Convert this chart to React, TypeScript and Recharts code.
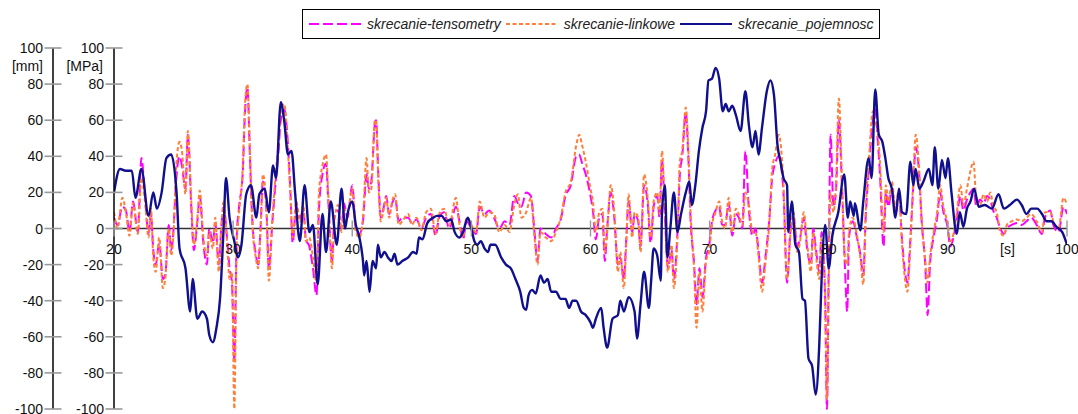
import React from "react"
import { LineChart, Line, XAxis, YAxis, ReferenceLine } from "recharts"

// czas [s] - wspolny dla tensometrow i linkowych
const czas = [
  20, 20.3, 20.7, 21, 21.3, 21.6, 22, 22.3, 22.6, 22.9,
  23.1, 23.3, 23.5, 23.8, 24.1, 24.3, 24.6, 24.8, 25, 25.2,
  25.5, 25.7, 26, 26.2, 26.5, 26.7, 27, 27.2, 27.5, 27.8,
  28, 28.3, 28.5, 28.8, 29, 29.2, 29.5, 29.7, 29.9, 30.1,
  30.3, 30.5, 30.8, 31, 31.2, 31.4, 31.6, 31.9, 32.1, 32.3,
  32.5, 32.8, 33, 33.3, 33.6, 33.8, 34, 34.3, 34.5, 34.8,
  35, 35.3, 35.6, 35.9, 36.1, 36.4, 36.7, 37, 37.2, 37.5,
  37.8, 38, 38.3, 38.5, 38.8, 39.1, 39.3, 39.6, 40, 40.3,
  40.6, 40.9, 41.2, 41.4, 41.6, 41.9, 42, 42.2, 42.4, 42.65,
  42.85, 43.1, 43.35, 43.6, 43.9, 44.2, 44.7, 45, 45.4, 45.8,
  46.2, 46.6, 47, 47.3, 47.7, 48.15, 48.7, 49, 49.3, 49.6,
  50, 50.4, 50.7, 51.1, 51.5, 51.9, 52.35, 52.8, 53.2, 53.6,
  53.9, 54.2, 54.6, 55, 55.3, 55.55, 55.8, 56.25, 56.7, 57.1,
  57.5, 57.9, 58.35, 58.8, 59.05, 59.3, 59.6, 60, 60.2, 60.45,
  60.7, 61, 61.2, 61.4, 61.7, 62, 62.3, 62.5, 62.8, 63,
  63.2, 63.5, 63.7, 64, 64.2, 64.5, 64.8, 65.05, 65.3, 65.6,
  65.8, 66, 66.25, 66.5, 66.8, 67, 67.3, 67.5, 67.7, 68,
  68.2, 68.4, 68.7, 68.9, 69.15, 69.4, 69.7, 69.95, 70.2, 70.5,
  70.8, 71.05, 71.3, 71.6, 71.9, 72.2, 72.45, 72.75, 73, 73.3,
  73.6, 73.85, 74.1, 74.4, 74.7, 75, 75.25, 75.5, 75.8, 76.2,
  76.5, 76.8, 77.05, 77.35, 77.6, 77.9, 78.2, 78.5, 78.7, 78.9,
  79.2, 79.4, 79.7, 79.85, 80, 80.15, 80.4, 80.6, 80.85, 81.1,
  81.35, 81.55, 81.7, 82, 82.4, 82.65, 82.9, 83.1, 83.4, 83.7,
  83.9, 84.1, 84.3, 84.6, 84.8, 85, 85.3, 85.6, 85.9, 86.15,
  86.4, 86.6, 86.85, 87.1, 87.3, 87.55, 87.8, 88.1, 88.3, 88.5,
  88.8, 89.1, 89.35, 89.6, 90, 90.2, 90.5, 90.75, 91.05, 91.3,
  91.6, 91.9, 92.15, 92.4, 92.7, 93, 93.3, 93.55, 93.8, 94.1,
  94.4, 94.7, 94.95, 95.35, 95.8, 96.2, 96.6, 97, 97.45, 97.9,
  98.15, 98.6, 98.85, 99.3, 99.7, 100,
]

const tensometry = [
  6, 2, 12, 10, -2, 15, -2, 39, 18, -3,
  8, -12, -20, -8, -28, -26, 2, -12, 0, 25,
  40, 35, 22, 52, 10, -12, 4, 18, -8, -20,
  0, -8, 3, -20, 0, 12, -6, -22, -30, -73,
  -5, 12, 30, 65, 78, 42, 6, -14, -20, 0,
  26, 10, -22, 4, 28, 42, 60, 66, 56, 22,
  -8, 12, 6, 10, -6, -10, -22, -37, 10, 30,
  36, 14, -18, 6, 10, 0, 14, 6, 24, 0,
  -3, 4, 30, 22, 26, 58, 60, 28, 6, 12,
  18, 8, 14, 17, 4, 6, 6, 3, 5, 0,
  6, 8, -4, 6, 9, 0, 12, 4, -6, 4,
  0, -3, 12, 8, 10, 6, 0, 4, 2, 18,
  14, 12, 20, 18, -2, -18, 0, -3, -5, 0,
  5, 18, 24, 40, 41, 36, 30, 18, 10, -6,
  5, 8, -18, 0, 20, 6, -20, -16, -28, -6,
  15, -2, 8, 4, -10, 24, 14, -8, 12, 18,
  6, 38, 6, -22, -12, -28, -2, 30, 40, 64,
  42, 5, -20, -42, -22, -38, -16, -10, 4, 10,
  12, 2, 2, 14, -4, 8, 6, 0, 43, 10,
  -4, 0, -12, -30, -15, 4, 28, 36, 40, 20,
  -30, 0, 6, -10, -5, 6, -12, -20, 0, -10,
  -24, -2, -40, -100, -20, 52, 12, 20, 60, 25,
  -20, -46, -5, 4, -6, -14, -26, 6, 36, 60,
  66, 50, 30, -10, 20, 12, 22, 8, 18, -6,
  -24, -30, -6, 24, 45, 34, 4, -20, -48, -20,
  -5, 6, 20, 10, 0, -10, -4, 6, 18, 10,
  16, 20, 22, 12, 16, 14, 18, 16, 10, 6,
  0, -3, 0, 2, 3, 2, 4, 6, 2, -3,
  6, 10, 2, -2, 12, 8,
]

const linkowe = [
  9, 0, 17, 9, -4, 14, -3, 28, 15, -5,
  11, -16, -24, -5, -33, -28, 0, -15, -2, 32,
  48, 43, 19, 54, 13, -9, 6, 21, -5, -15,
  -2, -11, 6, -24, -2, 15, -9, -28, -24, -100,
  -9, 9, 33, 69, 80, 46, 4, -16, -22, -2,
  30, 9, -29, 6, 32, 46, 65, 69, 54, 19,
  -5, 15, 4, 13, -7, -5, -16, -30, 19, 35,
  41, 17, -22, 4, 13, -2, 11, 8, 22, -2,
  -5, 6, 39, 20, 22, 60, 60, 24, 4, 11,
  17, 6, 15, 19, 2, 4, 8, 2, 6, -1,
  9, 11, -3, 8, 11, 2, 17, 2, -5, 6,
  2, -2, 15, 6, 9, 8, -2, 2, -2, 13,
  19, 6, 9, 17, -5, -20, -2, -5, -7, -2,
  6, 20, 26, 46, 52, 46, 37, 22, 15, -2,
  8, 11, -13, -2, 24, 9, -24, -13, -33, -9,
  19, -5, 9, 6, -13, 30, 17, -5, 15, 20,
  8, 43, 9, -24, -9, -33, -5, 37, 43, 67,
  46, 9, -24, -55, -24, -46, -18, -13, 2, 9,
  15, 4, 0, 17, -2, 11, 8, 2, 20, 13,
  -2, -2, -15, -35, -18, 2, 33, 41, 52, 24,
  -28, -2, 9, -13, -7, 9, -9, -24, -2, -13,
  -28, -5, -37, -95, -28, 20, 9, 24, 72, 28,
  -16, -20, -2, 6, -5, -16, -31, 9, 41, 65,
  59, 54, 37, -2, 24, 15, 26, 11, 22, -9,
  -28, -35, -9, 28, 52, 37, 6, -18, -30, -16,
  -2, 9, 24, 13, 2, -7, -2, 9, 24, 13,
  22, 32, 37, 15, 13, 19, 15, 20, 13, 9,
  -2, -4, 2, 4, 5, 4, 6, 8, 4, -2,
  9, 9, 4, 0, 17, 13,
]

// czas [s] dla czujnika pojemnosciowego
const czasPoj = [
  20, 20.5, 21, 21.5, 21.8, 22.3, 22.9, 23.3, 23.6, 24,
  24.4, 24.8, 25.25, 25.5, 26, 26.4, 26.6, 27, 27.4, 27.8,
  28, 28.3, 28.6, 28.9, 29.2, 29.4, 29.7, 30.1, 30.4, 30.7,
  31.1, 31.5, 31.95, 32.2, 32.65, 33, 33.35, 33.6, 34, 34.3,
  34.6, 34.9, 35.2, 35.6, 36, 36.4, 36.7, 37.1, 37.5, 37.8,
  38.2, 38.7, 39.1, 39.4, 39.6, 40, 40.3, 40.6, 40.9, 41,
  41.2, 41.45, 41.7, 42, 42.15, 42.4, 42.7, 43, 43.3, 43.55,
  43.8, 44.2, 44.7, 45.1, 45.4, 45.6, 45.9, 46.3, 46.8, 47.1,
  47.5, 47.9, 48.3, 48.6, 49, 49.3, 49.7, 50, 50.25, 50.5,
  50.8, 51.1, 51.4, 51.6, 52, 52.5, 52.9, 53.3, 53.7, 54.1,
  54.4, 54.6, 54.8, 55.1, 55.4, 55.8, 56.1, 56.4, 56.7, 57.1,
  57.5, 57.9, 58.2, 58.5, 58.8, 59.2, 59.6, 60, 60.2, 60.45,
  60.9, 61.1, 61.4, 61.85, 62.3, 62.5, 62.8, 63.2, 63.7, 63.9,
  64.2, 64.5, 64.9, 65.1, 65.3, 65.6, 65.9, 66, 66.25, 66.45,
  66.7, 67, 67.3, 67.6, 68, 68.3, 68.5, 68.8, 69.1, 69.4,
  69.7, 69.9, 70.2, 70.5, 70.8, 71.1, 71.35, 71.6, 71.9, 72.2,
  72.6, 73, 73.3, 73.6, 73.85, 74.1, 74.4, 74.8, 75.1, 75.4,
  75.7, 75.95, 76.2, 76.5, 76.6, 76.9, 77.2, 77.5, 77.8, 78,
  78.3, 78.6, 78.9, 79.2, 79.4, 79.7, 80, 80.3, 80.8, 81.3,
  81.6, 81.8, 82.1, 82.2, 82.65, 82.9, 83.35, 83.6, 83.9, 84.2,
  84.5, 84.75, 85, 85.3, 85.6, 85.9, 86.15, 86.5, 86.85, 87.1,
  87.3, 87.6, 87.95, 88.4, 88.7, 88.9, 89.2, 89.5, 89.8, 90,
  90.3, 90.75, 91, 91.3, 91.6, 91.9, 92.2, 92.6, 93.1, 93.7,
  94.25, 94.7, 95.2, 95.8, 96.2, 96.6, 97, 97.5, 97.9, 98.3,
  98.7, 99.1, 99.6, 100,
]

const pojemnosc = [
  20, 33, 32, 32, 17, 33, 7, 20, 11, 20,
  39, 41, 20, -11, -22, -46, -28, -50, -46, -50,
  -59, -63, -55, -39, 0, 28, 6, -7, -16, -9,
  19, 24, 6, 19, 22, 9, 35, 28, 70, 59,
  41, 43, 20, -7, 24, -2, 2, -31, 8, -13,
  15, -9, 22, 0, 8, 15, 2, -5, -18, -26,
  -18, -35, -18, -22, -9, -16, -13, -16, -18, -14,
  -20, -18, -16, -13, -14, -5, -6, 3, 6, 7,
  7, 4, 5, -2, -5, -2, 6, 0, -7, -9,
  -7, -11, -13, -9, -9, -16, -20, -22, -28, -35,
  -44, -45, -37, -34, -36, -26, -30, -28, -35, -35,
  -39, -39, -44, -40, -40, -46, -48, -52, -55, -50,
  -44, -55, -66, -50, -48, -40, -46, -38, -46, -61,
  -42, -24, -44, -28, -11, -15, -29, 9, 24, -16,
  0, 20, -2, 8, 20, 26, 13, 24, 43, 56,
  65, 82, 83, 89, 83, 65, 69, 65, 68, 63,
  54, 76, 57, 45, 54, 41, 56, 76, 82, 74,
  46, 37, 28, 24, -2, 15, -9, -13, -39, -40,
  -72, -76, -92, -65, -28, 2, -22, -4, 9, 30,
  6, 15, 7, 14, -1, 15, 39, 28, 77, 52,
  48, 39, 28, 22, 6, 22, 9, 8, 37, 24,
  33, 22, 26, 33, 24, 45, 22, 38, 28, 39,
  20, -3, 9, 1, 11, 15, 22, 12, 13, 11,
  19, 11, 13, 16, 13, 8, 11, 11, 8, 4,
  4, 1, -2, -9,
]

const yTicks = [-100, -80, -60, -40, -20, 0, 20, 40, 60, 80, 100]
const xTicks = [20, 30, 40, 50, 60, 70, 80, 90, 95, 100]

const W = 1078
const H = 414
const M = { top: 48, right: 11, bottom: 4, left: 0 }
const X_AXIS_H = 1
const ZERO_Y = M.top + (H - M.top - M.bottom - X_AXIS_H) / 2
const TICK_GAP = 10 // odstep tekstu od osi
const FONT = "'Liberation Sans', Arial, sans-serif"

const seria = (t: number[], v: number[]) => t.map((x, i) => ({ t: x, v: v[i] }))

// x = linia osi - TICK_GAP, kreska przecina os (+-8 px)
const YTick = (props: any) => {
  const { x, y, payload } = props
  return (
    <g>
      <line x1={x + TICK_GAP - 8.5} x2={x + TICK_GAP + 8.5} y1={y} y2={y} stroke="#999" strokeWidth={1.6} />
      <text x={x} y={y} dy={5} textAnchor="end" fontSize={14} fill="#111" fontFamily={FONT}>
        {payload.value}
      </text>
    </g>
  )
}

const XTick = (props: any) => {
  const { x, payload } = props
  const v = payload.value
  return (
    <g>
      {v !== 95 && <line x1={x} x2={x} y1={ZERO_Y - 8} y2={ZERO_Y + 8} stroke="#999" strokeWidth={1.4} />}
      <text x={x} y={ZERO_Y + 25} textAnchor="middle" fontSize={14} fill="#111" fontFamily={FONT}>
        {v === 95 ? "[s]" : v}
      </text>
    </g>
  )
}

const pozycje = [
  { nazwa: "skrecanie-tensometry", kolor: "#FF00FF", dash: "10 4" },
  { nazwa: "skrecanie-linkowe", kolor: "#FF7F3A", dash: "4 2.5" },
  { nazwa: "skrecanie_pojemnosc", kolor: "#10108F", dash: undefined },
]

function Legenda() {
  return (
    <div
      style={{
        position: "absolute", left: 302, top: 9, width: 578, height: 30,
        border: "1px solid #000", display: "flex", alignItems: "center",
        fontFamily: FONT, fontStyle: "italic", fontSize: 14, color: "#222",
        paddingLeft: 6, boxSizing: "border-box", whiteSpace: "nowrap",
      }}
    >
      {pozycje.map((p) => (
        <div key={p.nazwa} style={{ display: "flex", alignItems: "center", marginRight: 5 }}>
          <svg width={52} height={10} style={{ marginRight: 6 }}>
            <line x1={0} x2={52} y1={5} y2={5} stroke={p.kolor} strokeWidth={2} strokeDasharray={p.dash} />
          </svg>
          <span>{p.nazwa}</span>
        </div>
      ))}
    </div>
  )
}

export default function App() {
  return (
    <div style={{ position: "absolute", left: 0, top: 0, width: W, height: H, background: "#fff" }}>
      <Legenda />
      <span style={{ position: "absolute", right: W - 43, top: 58, fontFamily: FONT, fontSize: 14, color: "#111" }}>[mm]</span>
      <span style={{ position: "absolute", right: W - 103, top: 58, fontFamily: FONT, fontSize: 14, color: "#111" }}>[MPa]</span>
      <LineChart width={W} height={H} margin={M} style={{ fontFamily: FONT }}>
        <XAxis
          dataKey="t" type="number" domain={[20, 100]} ticks={xTicks} interval={0}
          height={X_AXIS_H} axisLine={false} tickLine={false} tick={<XTick />} allowDataOverflow
        />
        {/* os wewnetrzna (przy wykresie) szer. 61, zewnetrzna szer. 53 */}
        <YAxis
          yAxisId="mpa" width={53} domain={[-100, 100]} ticks={yTicks} interval={0}
          tickSize={0} tickMargin={TICK_GAP} tickLine={false} tick={<YTick />}
          axisLine={{ stroke: "#000", strokeWidth: 1.5 }}
        />
        <YAxis
          yAxisId="mm" width={61} domain={[-100, 100]} ticks={yTicks} interval={0}
          tickSize={0} tickMargin={TICK_GAP} tickLine={false} tick={<YTick />}
          axisLine={{ stroke: "#000", strokeWidth: 1.5 }}
        />
        <ReferenceLine yAxisId="mpa" y={0} stroke="#333" strokeWidth={1.3} />
        <Line
          yAxisId="mpa" data={seria(czas, tensometry)} dataKey="v" type="monotone"
          stroke="#FF00FF" strokeWidth={2} strokeDasharray="10 4" dot={false} activeDot={false}
          isAnimationActive={false}
        />
        <Line
          yAxisId="mpa" data={seria(czas, linkowe)} dataKey="v" type="monotone"
          stroke="#FF7F3A" strokeWidth={2} strokeDasharray="4 2.5" dot={false} activeDot={false}
          isAnimationActive={false}
        />
        <Line
          yAxisId="mm" data={seria(czasPoj, pojemnosc)} dataKey="v" type="monotone"
          stroke="#10108F" strokeWidth={2.4} dot={false} activeDot={false}
          isAnimationActive={false}
        />
      </LineChart>
    </div>
  )
}
